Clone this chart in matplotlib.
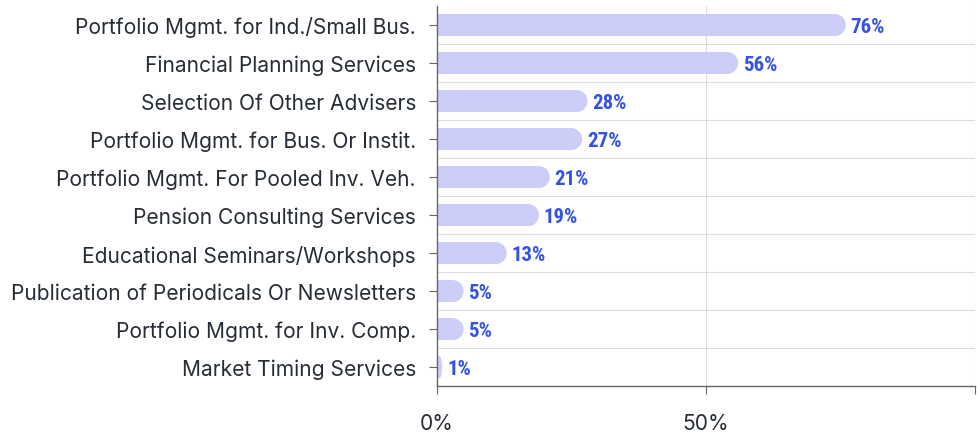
import matplotlib.pyplot as plt
from matplotlib.patches import Ellipse

categories = [
    'Portfolio Mgmt. for Ind./Small Bus.',
    'Financial Planning Services',
    'Selection Of Other Advisers',
    'Portfolio Mgmt. for Bus. Or Instit.',
    'Portfolio Mgmt. For Pooled Inv. Veh.',
    'Pension Consulting Services',
    'Educational Seminars/Workshops',
    'Publication of Periodicals Or Newsletters',
    'Portfolio Mgmt. for Inv. Comp.',
    'Market Timing Services',
]
values = [76, 56, 28, 27, 21, 19, 13, 5, 5, 1]
xticks = [0, 50, 100]
xtick_labels = ['0%', '50%', '']

bar_color = '#cdcdfa'
label_color = '#3553e0'
text_color = '#262d35'

fig = plt.figure(figsize=(9.77, 4.35), dpi=100)
ax = fig.add_axes([0.447, 0.110, 0.551, 0.874])
ax.set_xlim(0, 100)
ax.set_ylim(len(categories) - 0.5, -0.5)

h = 0.58
# radius of half the bar height, converted to x data units
px_per_x = ax.bbox.width / 100
px_per_y = ax.bbox.height / len(categories)
r_data = (h * px_per_y / 2) / px_per_x

for i, v in enumerate(values):
    rx = min(r_data, v / 2)
    ax.barh(i, v - rx, height=h, color=bar_color, zorder=2)
    ax.add_patch(Ellipse((v - rx, i), 2 * rx, h, color=bar_color, lw=0, zorder=2))
    ax.text(v + 0.9, i + 0.03, f'{v}%', va='center', ha='left', color=label_color,
            fontsize=15, fontweight='bold',
            family=['Roboto Condensed', 'DejaVu Sans'], zorder=3)

ax.set_yticks(range(len(categories)))
ax.set_yticklabels(categories, fontsize=15.1, color=text_color, family='Inter')
ax.set_yticks([i + 0.5 for i in range(len(categories) - 1)], minor=True)
ax.set_xticks(xticks)
ax.set_xticklabels(xtick_labels, fontsize=15.1, color=text_color, family='Inter')

ax.tick_params(axis='y', which='major', length=6, pad=9, color='#666666')
ax.tick_params(axis='y', which='minor', length=0)
ax.tick_params(axis='x', length=6, pad=13, color='#666666')

ax.grid(axis='y', which='minor', color='#dddddd', lw=0.8, zorder=0)
ax.grid(axis='x', which='major', color='#dddddd', lw=0.8, zorder=0)

for s in ['top', 'right']:
    ax.spines[s].set_visible(False)
for s in ['left', 'bottom']:
    ax.spines[s].set_color('#666666')
    ax.spines[s].set_linewidth(1)

fig.savefig('out.png', dpi=100)
